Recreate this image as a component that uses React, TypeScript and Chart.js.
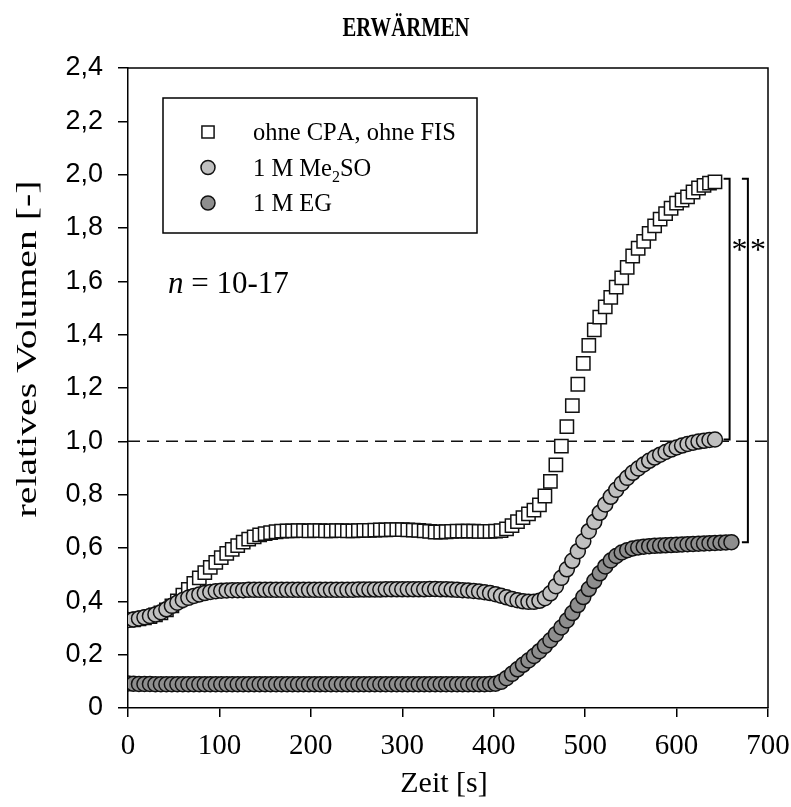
import React, { useEffect, useRef } from 'react';
import { Chart, registerables } from 'chart.js';

Chart.register(...registerables);

// ---------- data ----------
const TITLE = 'ERWÄRMEN';
const X_TITLE = 'Zeit [s]';
const Y_TITLE = 'relatives Volumen [-]';
const SERIES_LABELS = ['ohne CPA, ohne FIS', '1 M Me₂SO', '1 M EG'];
const N_LABEL = '10-17';
const X_TICKS = [0, 100, 200, 300, 400, 500, 600, 700];
const Y_TICKS = [0, 0.2, 0.4, 0.6, 0.8, 1.0, 1.2, 1.4, 1.6, 1.8, 2.0, 2.2, 2.4];
const REFERENCE_LEVEL = 1.0;
const SIGNIFICANCE = ['*', '*'];

// time points [s]
const TIME = [
  0, 6, 12, 18, 24, 30, 36, 42, 48, 54, 60, 66, 72, 78, 84, 90, 96, 102, 108, 114,
  120, 126, 132, 138, 144, 150, 156, 162, 168, 174, 180, 186, 192, 198, 204, 210, 216, 222, 228, 234,
  240, 246, 252, 258, 264, 270, 276, 282, 288, 294, 300, 306, 312, 318, 324, 330, 336, 342, 348, 354,
  360, 366, 372, 378, 384, 390, 396, 402, 408, 414, 420, 426, 432, 438, 444, 450, 456, 462, 468, 474,
  480, 486, 492, 498, 504, 510, 516, 522, 528, 534, 540, 546, 552, 558, 564, 570, 576, 582, 588, 594,
  600, 606, 612, 618, 624, 630, 636, 642, 648, 654, 660,
];

// ohne CPA, ohne FIS (0 .. 642 s)
const OHNE_CPA = [
  0.330, 0.331, 0.334, 0.338, 0.343, 0.349, 0.357, 0.368, 0.383, 0.402,
  0.423, 0.445, 0.467, 0.488, 0.508, 0.527, 0.546, 0.564, 0.580, 0.595,
  0.609, 0.622, 0.633, 0.642, 0.649, 0.654, 0.658, 0.661, 0.663, 0.664,
  0.664, 0.665, 0.665, 0.664, 0.665, 0.665, 0.664, 0.664, 0.665, 0.665,
  0.664, 0.664, 0.665, 0.666, 0.666, 0.667, 0.668, 0.668, 0.669, 0.669,
  0.669, 0.668, 0.667, 0.666, 0.664, 0.662, 0.660, 0.660, 0.661, 0.662,
  0.663, 0.663, 0.663, 0.663, 0.662, 0.662, 0.662, 0.663, 0.665, 0.672,
  0.684, 0.699, 0.714, 0.728, 0.742, 0.762, 0.795, 0.850, 0.912, 0.982,
  1.055, 1.134, 1.214, 1.292, 1.360, 1.418, 1.466, 1.504, 1.540, 1.578,
  1.613, 1.652, 1.695, 1.724, 1.750, 1.780, 1.808, 1.833, 1.854, 1.874,
  1.893, 1.905, 1.917, 1.935, 1.950, 1.960, 1.968, 1.973,
];

// 1 M Me2SO (0 .. 642 s)
const ME2SO = [
  0.330, 0.332, 0.336, 0.340, 0.345, 0.351, 0.359, 0.370, 0.383, 0.395,
  0.405, 0.413, 0.420, 0.426, 0.431, 0.435, 0.438, 0.440, 0.441, 0.442,
  0.442, 0.442, 0.443, 0.443, 0.443, 0.443, 0.443, 0.443, 0.443, 0.443,
  0.443, 0.443, 0.443, 0.443, 0.443, 0.443, 0.443, 0.443, 0.443, 0.443,
  0.443, 0.443, 0.444, 0.444, 0.444, 0.444, 0.444, 0.445, 0.445, 0.445,
  0.445, 0.445, 0.445, 0.445, 0.445, 0.446, 0.446, 0.445, 0.445, 0.444,
  0.443, 0.442, 0.441, 0.439, 0.437, 0.434, 0.431, 0.427, 0.421, 0.415,
  0.409, 0.404, 0.400, 0.398, 0.398, 0.402, 0.412, 0.430, 0.457, 0.488,
  0.520, 0.552, 0.588, 0.625, 0.663, 0.698, 0.732, 0.763, 0.792, 0.818,
  0.842, 0.863, 0.882, 0.898, 0.913, 0.927, 0.939, 0.950, 0.960, 0.969,
  0.977, 0.984, 0.990, 0.995, 0.999, 1.002, 1.005, 1.007,
];

// 1 M EG (0 .. 660 s)
const EG = [
  0.092, 0.091, 0.090, 0.090, 0.090, 0.089, 0.089, 0.089, 0.089, 0.089,
  0.089, 0.089, 0.089, 0.089, 0.089, 0.089, 0.089, 0.089, 0.089, 0.089,
  0.089, 0.089, 0.089, 0.089, 0.089, 0.089, 0.089, 0.089, 0.089, 0.089,
  0.089, 0.089, 0.089, 0.089, 0.089, 0.089, 0.089, 0.089, 0.089, 0.089,
  0.089, 0.089, 0.089, 0.089, 0.089, 0.089, 0.089, 0.089, 0.089, 0.089,
  0.089, 0.089, 0.089, 0.089, 0.089, 0.089, 0.089, 0.089, 0.089, 0.089,
  0.089, 0.089, 0.089, 0.089, 0.089, 0.089, 0.090, 0.091, 0.098, 0.112,
  0.128, 0.145, 0.162, 0.178, 0.195, 0.213, 0.233, 0.254, 0.277, 0.302,
  0.328, 0.356, 0.386, 0.416, 0.446, 0.476, 0.505, 0.531, 0.553, 0.570,
  0.583, 0.592, 0.598, 0.602, 0.605, 0.607, 0.608, 0.609, 0.610, 0.611,
  0.612, 0.613, 0.614, 0.615, 0.616, 0.617, 0.618, 0.619, 0.620, 0.621,
  0.622,
];

// ---------- styles ----------
const SERIF = '"Liberation Serif", "Times New Roman", serif';
const SANS = '"Liberation Sans", Arial, sans-serif';
const FILL_SQUARE = '#ffffff';
const FILL_ME2SO = '#c0c0c0';
const FILL_EG = '#8e8e8e';
const EDGE = '#111111';

const toPoints = (vals: number[]) => vals.map((v, i) => ({ x: TIME[i], y: v }));

function drawMarker(ctx: CanvasRenderingContext2D, style: string, fill: string, x: number, y: number, r: number) {
  ctx.save();
  ctx.fillStyle = fill;
  ctx.strokeStyle = EDGE;
  ctx.lineWidth = 1.5;
  ctx.beginPath();
  if (style === 'rect') {
    const h = r * Math.SQRT1_2;
    ctx.rect(x - h, y - h, 2 * h, 2 * h);
  } else {
    ctx.arc(x, y, r, 0, Math.PI * 2);
  }
  ctx.fill();
  ctx.stroke();
  ctx.restore();
}

function drawLabelWithSub(ctx: CanvasRenderingContext2D, text: string, x: number, y: number, size: number) {
  const subMap: Record<string, string> = { '₂': '2' };
  let cx = x;
  for (const ch of text) {
    if (subMap[ch]) {
      ctx.font = `${Math.round(size * 0.65)}px ${SERIF}`;
      ctx.fillText(subMap[ch], cx, y + size * 0.28);
      cx += ctx.measureText(subMap[ch]).width;
    } else {
      ctx.font = `${size}px ${SERIF}`;
      ctx.fillText(ch, cx, y);
      cx += ctx.measureText(ch).width;
    }
  }
}

function drawFitted(ctx: CanvasRenderingContext2D, text: string, cx: number, baseline: number, font: string, width: number, yScale = 1) {
  ctx.save();
  ctx.font = font;
  const w = ctx.measureText(text).width;
  ctx.translate(cx, baseline);
  ctx.scale(width / w, yScale);
  ctx.textAlign = 'center';
  ctx.textBaseline = 'alphabetic';
  ctx.fillText(text, 0, 0);
  ctx.restore();
}

const decorPlugin = {
  id: 'decor',
  beforeDatasetsDraw(chart: any) {
    const { ctx, chartArea: a, scales } = chart;
    const yy = scales.y.getPixelForValue(REFERENCE_LEVEL);
    ctx.save();
    ctx.strokeStyle = '#111';
    ctx.lineWidth = 1.5;
    ctx.setLineDash([12, 7]);
    ctx.beginPath();
    ctx.moveTo(a.left, yy);
    ctx.lineTo(a.right, yy);
    ctx.stroke();
    ctx.restore();
  },
  afterDraw(chart: any) {
    const { ctx, chartArea: a, scales } = chart;
    const xs = scales.x;
    const ys = scales.y;
    ctx.save();
    // frame top/right
    ctx.strokeStyle = '#000';
    ctx.lineWidth = 1.5;
    ctx.beginPath();
    ctx.moveTo(a.left, a.top);
    ctx.lineTo(a.right, a.top);
    ctx.lineTo(a.right, a.bottom);
    ctx.stroke();

    // legend box
    ctx.lineWidth = 1.5;
    ctx.strokeRect(163, 98, 314, 135);
    const ds = chart.data.datasets;
    const rows = [132, 167.5, 203];
    ds.forEach((d: any, i: number) => {
      drawMarker(ctx, d.pointStyle, d.backgroundColor, 208, rows[i], d.pointStyle === 'rect' ? 8.6 : 7);
      ctx.fillStyle = '#000';
      ctx.textAlign = 'left';
      ctx.textBaseline = 'alphabetic';
      drawLabelWithSub(ctx, d.label, 253, rows[i] + 8, 24.5);
    });

    // n = 10-17
    ctx.fillStyle = '#000';
    ctx.textAlign = 'left';
    ctx.textBaseline = 'alphabetic';
    ctx.font = `italic 31px ${SERIF}`;
    ctx.fillText('n', 168, 293);
    const nw = ctx.measureText('n').width;
    ctx.font = `31px ${SERIF}`;
    ctx.fillText(' = ' + N_LABEL, 168 + nw, 293);

    // significance brackets
    const last = (arr: number[]) => arr[arr.length - 1];
    const brackets = [
      { x: xs.getPixelForValue(658), top: last(OHNE_CPA), bottom: last(ME2SO) },
      { x: xs.getPixelForValue(678), top: last(OHNE_CPA), bottom: last(EG) },
    ];
    ctx.lineWidth = 2;
    brackets.forEach((b, i) => {
      const yt = ys.getPixelForValue(b.top) - 3;
      const yb = ys.getPixelForValue(b.bottom);
      ctx.beginPath();
      ctx.moveTo(b.x - 6, yt);
      ctx.lineTo(b.x, yt);
      ctx.lineTo(b.x, yb);
      ctx.lineTo(b.x - 6, yb);
      ctx.stroke();
      ctx.font = `32px ${SERIF}`;
      ctx.textAlign = 'center';
      ctx.fillText(SIGNIFICANCE[i], b.x + 10, 260);
    });

    // title
    drawFitted(ctx, TITLE, 406, 36, `bold 25px ${SERIF}`, 127, 1.12);

    // x title
    ctx.font = `30px ${SERIF}`;
    ctx.textAlign = 'center';
    ctx.fillText(X_TITLE, 444, 792);

    // y title (rotated, stretched to match length)
    ctx.save();
    ctx.translate(36, 349);
    ctx.rotate(-Math.PI / 2);
    drawFitted(ctx, Y_TITLE, 0, 0, `30px ${SERIF}`, 337);
    ctx.restore();

    ctx.restore();
  },
};

export default function App() {
  const ref = useRef<HTMLCanvasElement | null>(null);
  useEffect(() => {
    document.body.style.margin = '0';
    const canvas = ref.current;
    if (!canvas) return;
    const chart = new Chart(canvas, {
      type: 'scatter',
      data: {
        datasets: [
          {
            label: SERIES_LABELS[0],
            data: toPoints(OHNE_CPA),
            pointStyle: 'rect',
            pointRadius: 9.4,
            backgroundColor: FILL_SQUARE,
            borderColor: EDGE,
            borderWidth: 1.5,
            order: 3,
          },
          {
            label: SERIES_LABELS[1],
            data: toPoints(ME2SO),
            pointStyle: 'circle',
            pointRadius: 7.5,
            backgroundColor: FILL_ME2SO,
            borderColor: EDGE,
            borderWidth: 1.5,
            order: 2,
          },
          {
            label: SERIES_LABELS[2],
            data: toPoints(EG),
            pointStyle: 'circle',
            pointRadius: 7.5,
            backgroundColor: FILL_EG,
            borderColor: EDGE,
            borderWidth: 1.5,
            order: 1,
          },
        ],
      },
      options: {
        responsive: false,
        animation: false,
        events: [],
        layout: { padding: { top: 68, right: 23, left: 0, bottom: 0 } },
        plugins: { legend: { display: false }, tooltip: { enabled: false }, title: { display: false } },
        scales: {
          x: {
            type: 'linear',
            min: 0,
            max: 700,
            afterBuildTicks: (s: any) => { s.ticks = X_TICKS.map((v) => ({ value: v })); },
            afterFit: (s: any) => { s.height = 99; s.paddingLeft = 0; s.paddingRight = 0; },
            grid: { drawOnChartArea: false, drawTicks: true, tickLength: 9, color: '#000', lineWidth: 1.5 },
            border: { display: true, color: '#000', width: 1.5 },
            ticks: {
              color: '#000',
              padding: 12,
              maxRotation: 0,
              font: { family: SERIF, size: 29 },
              callback: (v: any) => String(v),
            },
          },
          y: {
            type: 'linear',
            min: 0,
            max: 2.4,
            afterBuildTicks: (s: any) => { s.ticks = Y_TICKS.map((v) => ({ value: v })); },
            afterFit: (s: any) => { s.width = 128; s.paddingTop = 0; s.paddingBottom = 0; },
            grid: { drawOnChartArea: false, drawTicks: true, tickLength: 10, color: '#000', lineWidth: 1.5 },
            border: { display: true, color: '#000', width: 1.5 },
            ticks: {
              color: '#000',
              padding: 15,
              font: { family: SANS, size: 27 },
              callback: (v: any) => (Number(v) === 0 ? '0' : Number(v).toFixed(1).replace('.', ',')),
            },
          },
        },
      },
      plugins: [decorPlugin],
    });
    return () => chart.destroy();
  }, []);
  return (
    <div style={{ width: 791, height: 807 }}>
      <canvas ref={ref} width={791} height={807} />
    </div>
  );
}
